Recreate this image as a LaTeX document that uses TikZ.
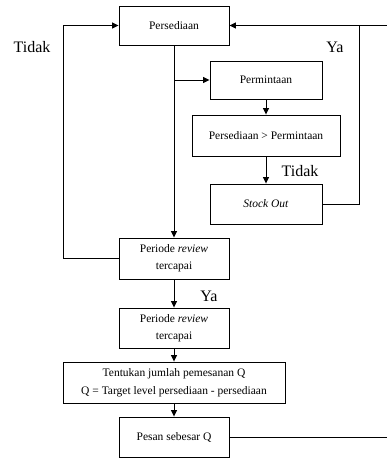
\documentclass[tikz,border=0pt]{standalone}
\usepackage{fontspec}
\setmainfont{Liberation Serif}
\usetikzlibrary{arrows.meta}
\tikzset{
  box/.style={draw, line width=0.9pt, rectangle, inner sep=0pt, align=center,
    font=\fontsize{11.5}{17}\selectfont},
  arr/.style={line width=0.9pt, -{Triangle[length=6.5pt,width=6pt]}},
  ln/.style={line width=0.9pt},
  lbl/.style={font=\fontsize{16}{18}\selectfont, inner sep=0pt}
}
\begin{document}
\begin{tikzpicture}[x=1pt,y=-1pt]
\useasboundingbox (0,0) rectangle (387,458);
\node[box, minimum width=110pt, minimum height=39pt] (pers) at (174,25.5) {Persediaan};
\node[box, minimum width=112pt, minimum height=38pt] (perm) at (266,80) {Permintaan};
\node[box, minimum width=148pt, minimum height=41pt] (pp) at (266,135.5) {Persediaan > Permintaan};
\node[box, minimum width=112pt, minimum height=40pt] (so) at (266,204) {\textit{Stock Out}};
\node[box, minimum width=110pt, minimum height=41pt] (pr1) at (174,258.5) {Periode \textit{review}\\tercapai};
\node[box, minimum width=110pt, minimum height=40pt] (pr2) at (174,328) {Periode \textit{review}\\tercapai};
\node[box, minimum width=222pt, minimum height=41pt] (ten) at (174,382.5) {Tentukan jumlah pemesanan Q\\[1pt]Q = Target level persediaan - persediaan};
\node[box, minimum width=110pt, minimum height=40pt] (pes) at (174,437) {Pesan sebesar Q};

\coordinate (leftTurn) at (63,25.5);
\coordinate (yaTurn) at (359,25.5);
\coordinate (topR) at (387,25.5);
\coordinate (botR) at (387,437);

\draw[arr] (pers.south) -- (pr1.north);
\draw[arr] (pers.south |- perm.west) -- (perm.west);
\draw[arr] (perm.south) -- (pp.north);
\draw[arr] (pp.south) -- (so.north);
\draw[ln] (so.east) -| (yaTurn);
\draw[arr] (topR) -- (pers.east);
\draw[arr] (pr1.west) -| (leftTurn) -- (pers.west);
\draw[arr] (pr1.south) -- (pr2.north);
\draw[arr] (pr2.south) -- (ten.north);
\draw[arr] (ten.south) -- (pes.north);
\draw[ln] (pes.east) -- (botR);

\node[lbl] (l1) at (32,47) {Tidak};
\node[lbl] (l2) at (335,47) {Ya};
\node[lbl] (l3) at (300,171) {Tidak};
\node[lbl] (l4) at (209,296) {Ya};
\end{tikzpicture}
\end{document}
